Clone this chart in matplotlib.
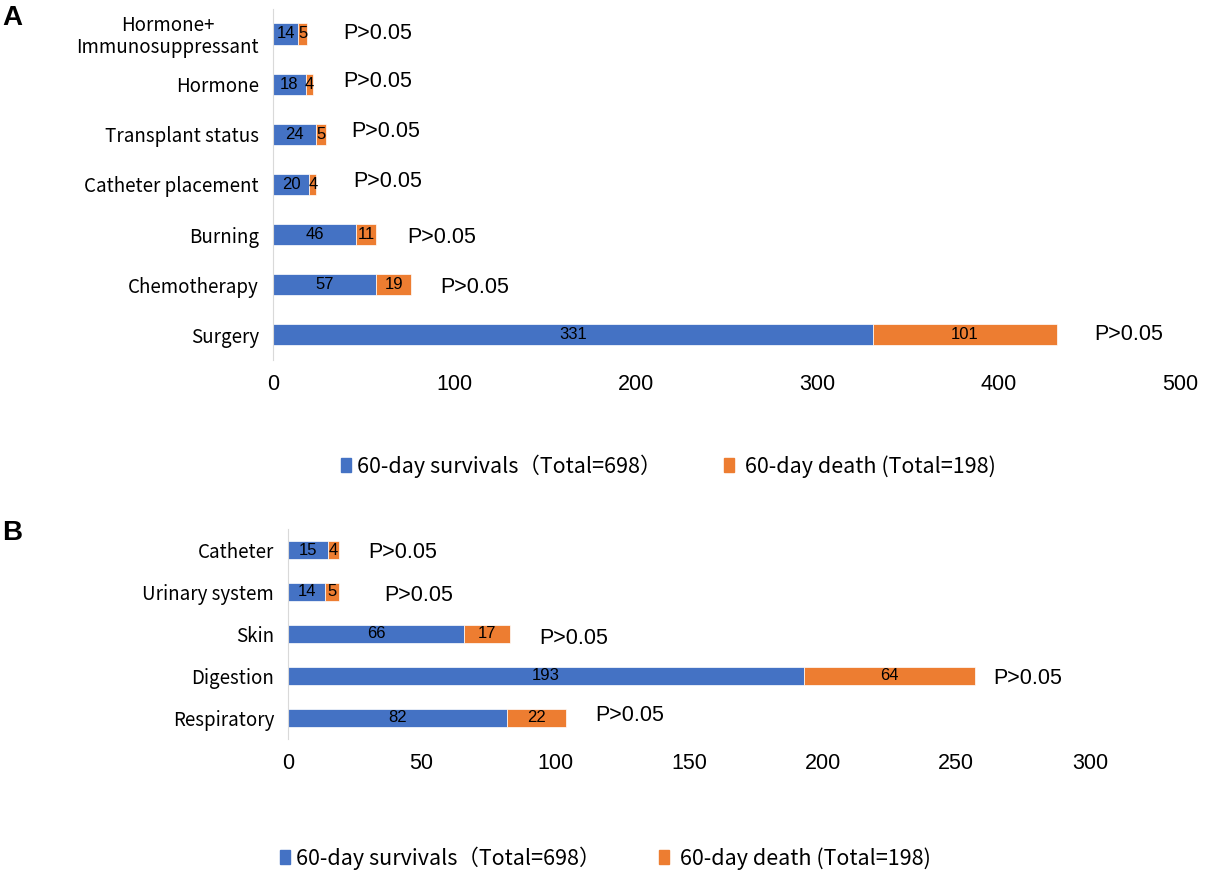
import matplotlib
matplotlib.use('Agg')
import matplotlib.pyplot as plt
from matplotlib.patches import Patch

plt.rcParams['font.family'] = ['Noto Sans CJK SC', 'DejaVu Sans']

# Panel A: underlying condition
cats_a = ['Hormone+\nImmunosuppressant', 'Hormone', 'Transplant status',
          'Catheter placement', 'Burning', 'Chemotherapy', 'Surgery']
surv_a = [14, 18, 24, 20, 46, 57, 331]
death_a = [5, 4, 5, 4, 11, 19, 101]
p_a = ['P>0.05'] * 7

# Panel B: infection site
cats_b = ['Catheter', 'Urinary system', 'Skin', 'Digestion', 'Respiratory']
surv_b = [15, 14, 66, 193, 82]
death_b = [4, 5, 17, 64, 22]
p_b = ['P>0.05'] * 5

lab_surv = '60-day survivals（Total=698）'
lab_death = ' 60-day death (Total=198)'

BLUE = '#4472C4'
ORANGE = '#ED7D31'
ARIAL = ['Liberation Sans', 'DejaVu Sans']

# gap between bar end and the P text (data units), and small vertical shifts
gap_a = [20, 17, 14, 20, 17, 16, 21]
dy_a = [0, -0.06, -0.05, -0.05, 0.05, 0.06, 0]
gap_b = [11, 17, 11, 7, 11]
dy_b = [0.05, 0.08, 0.1, 0.05, -0.05]


def panel(ax, cats, surv, death, pvals, gaps, dys, xmax, step, bh):
    y = list(range(len(cats)))[::-1]
    ax.barh(y, surv, height=bh, color=BLUE, edgecolor='white', linewidth=0.5)
    ax.barh(y, death, left=surv, height=bh, color=ORANGE, edgecolor='white', linewidth=0.5)
    for yi, s, d, p, g, dy in zip(y, surv, death, pvals, gaps, dys):
        ax.text(s / 2, yi, str(s), ha='center', va='center', fontsize=12, family=ARIAL)
        ax.text(s + d / 2, yi, str(d), ha='center', va='center', fontsize=12, family=ARIAL)
        ax.text(s + d + g, yi - dy, p, ha='left', va='center', fontsize=15.5, family=ARIAL)
    ax.set_yticks(y)
    ax.set_yticklabels(cats, fontsize=13.5, linespacing=1.05, weight='medium')
    for lbl in ax.get_yticklabels():
        lbl.set_multialignment('center')
    ax.set_xlim(0, xmax)
    ax.set_xticks(range(0, xmax + 1, step))
    ax.tick_params(axis='x', labelsize=15.5, length=0, pad=10)
    ax.tick_params(axis='y', length=0, pad=10)
    for lbl in ax.get_xticklabels():
        lbl.set_family(ARIAL)
    ax.set_ylim(-0.5, len(cats) - 0.5)
    for s in ['top', 'right', 'bottom']:
        ax.spines[s].set_visible(False)
    ax.spines['left'].set_color('#D9D9D9')


fig = plt.figure(figsize=(12.11, 8.93), dpi=100)

ax_a = fig.add_axes([0.2254, 0.597, 0.7490, 0.393])
panel(ax_a, cats_a, surv_a, death_a, p_a, gap_a, dy_a, 500, 100, 0.42)

ax_b = fig.add_axes([0.2378, 0.1725, 0.6622, 0.2351])
panel(ax_b, cats_b, surv_b, death_b, p_b, gap_b, dy_b, 300, 50, 0.42)

handles = [Patch(color=BLUE, label=lab_surv), Patch(color=ORANGE, label=lab_death)]
leg_font = {'size': 15.5, 'weight': 'medium'}
fig.legend(handles=handles, loc='center', bbox_to_anchor=(0.552, 1 - 466 / 893), ncol=2,
           frameon=False, prop=leg_font, handlelength=0.45, handleheight=0.6,
           handletextpad=0.3, columnspacing=2.9)
fig.legend(handles=handles, loc='center', bbox_to_anchor=(0.500, 1 - 858 / 893), ncol=2,
           frameon=False, prop=leg_font, handlelength=0.45, handleheight=0.6,
           handletextpad=0.3, columnspacing=2.7)

fig.text(0.002, 1 - 18 / 893, 'A', fontsize=20, fontweight='bold', va='center',
         family=ARIAL)
fig.text(0.002, 1 - 533 / 893, 'B', fontsize=20, fontweight='bold', va='center',
         family=ARIAL)

fig.savefig('out.png', dpi=100)
